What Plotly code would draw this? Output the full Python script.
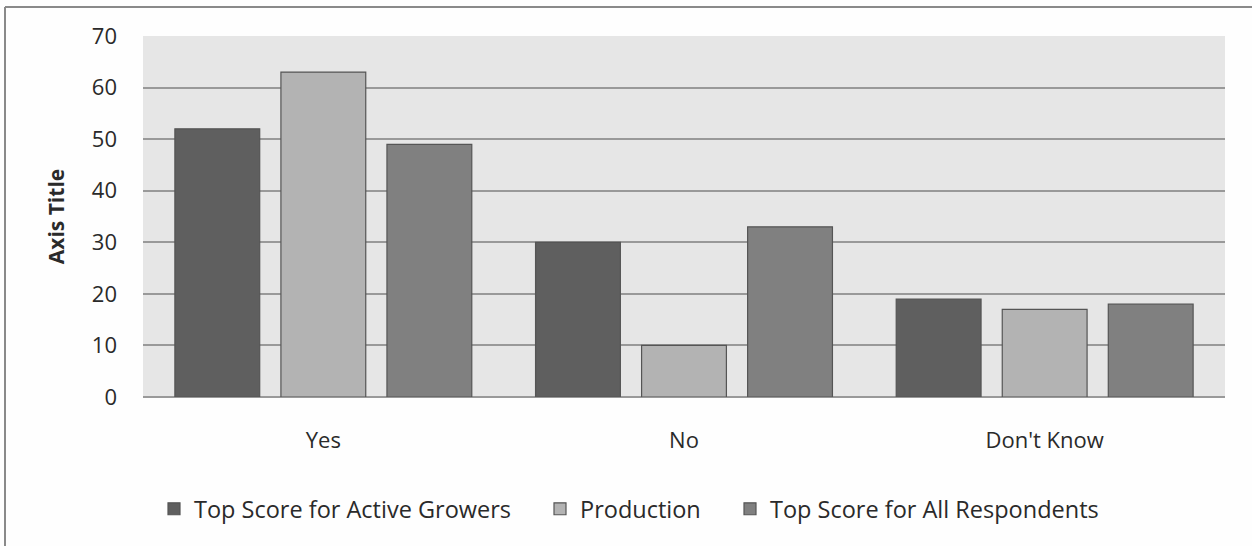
import plotly.graph_objects as go

categories = ["Yes", "No", "Don't Know"]
active_growers = [52, 30, 19]
production = [63, 10, 17]
all_respondents = [49, 33, 18]
series_names = ["Top Score for Active Growers", "Production", "Top Score for All Respondents"]
y_ticks = [0, 10, 20, 30, 40, 50, 60, 70]

W, H = 1252, 546
ml, mr, mt, mb = 143, 27, 36, 149
pw, ph = W - ml - mr, H - mt - mb

font = "Open Sans, Noto Sans, sans-serif"

# each series gets its own legend box so the entries can be spaced out
legend_ids = ["legend", "legend2", "legend3"]
legend_left_px = [154, 540, 730]
legend_y = -(509 - (H - mb)) / ph

fig = go.Figure()
for name, vals, color, lid in zip(series_names,
                                  [active_growers, production, all_respondents],
                                  ["#5f5f5f", "#b3b3b3", "#808080"],
                                  legend_ids):
    fig.add_trace(go.Bar(x=categories, y=vals, name=name, legend=lid,
                         marker=dict(color=color, line=dict(color="#555555", width=1.2))))

legend_common = dict(orientation="h", xanchor="left", yanchor="middle", y=legend_y,
                     font=dict(size=23.5, family=font), itemwidth=30,
                     bgcolor="rgba(0,0,0,0)")
legend_layout = {lid: dict(legend_common, x=(px - ml) / pw)
                 for lid, px in zip(legend_ids, legend_left_px)}

# chart frame (left and top edges visible)
fx0 = (5 - ml) / pw
fy1 = 1 + (mt - 7) / ph
fig.add_shape(type="line", xref="paper", yref="paper", x0=fx0, x1=fx0, y0=-0.5, y1=fy1,
              line=dict(color="#8a8a8a", width=2))
fig.add_shape(type="line", xref="paper", yref="paper", x0=fx0, x1=1.2, y0=fy1, y1=fy1,
              line=dict(color="#8a8a8a", width=2))

fig.update_layout(
    width=W, height=H,
    margin=dict(l=ml, r=mr, t=mt, b=mb),
    paper_bgcolor="#fefefe",
    plot_bgcolor="#e6e6e6",
    barmode="group",
    bargap=0.118,
    bargroupgap=0.2,
    font=dict(family=font, color="#2a2a2a", size=22),
    showlegend=True,
    xaxis=dict(showgrid=False, ticks="", showline=False, tickfont=dict(size=22),
               ticklabelstandoff=28),
    yaxis=dict(range=[0, 70], tickvals=y_ticks, showgrid=True, gridcolor="#999999",
               gridwidth=2, zeroline=True, zerolinecolor="#999999", zerolinewidth=2,
               ticks="", tickfont=dict(size=22), ticklabelstandoff=25,
               title=dict(text="<b>Axis Title</b>", font=dict(size=21), standoff=21)),
    **legend_layout,
)

fig.write_html("out.html")
